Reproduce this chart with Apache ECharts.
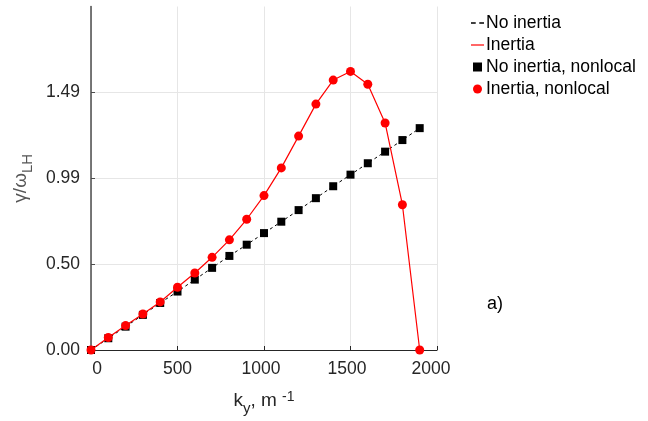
<!DOCTYPE html>
<html>
<head>
<meta charset="utf-8">
<script src="https://cdn.jsdelivr.net/npm/echarts@6/dist/echarts.min.js"></script>
<style>
  html, body { margin: 0; padding: 0; background: #fff; }
  #chart { width: 648px; height: 421px; }
</style>
</head>
<body>
<div id="chart"></div>
<script>
// Wavenumber k_y (m^-1)
const kValues = [0, 100, 200, 300, 400, 500, 600, 700, 800, 900,
                 1000, 1100, 1200, 1300, 1400, 1500, 1600, 1700, 1800, 1900];
// Normalised growth rate gamma/omega_LH with ion inertia
const inertia = [0, 0.072, 0.141, 0.208, 0.278, 0.363, 0.445, 0.536, 0.637, 0.756,
                 0.893, 1.053, 1.237, 1.422, 1.561, 1.611, 1.537, 1.313, 0.840, 0];
// Normalised growth rate without inertia
const noInertia = [0, 0.068, 0.135, 0.203, 0.272, 0.338, 0.407, 0.475, 0.544, 0.609,
                   0.676, 0.742, 0.809, 0.878, 0.947, 1.014, 1.080, 1.147, 1.214, 1.283];
// Axis ticks
const xTickStep = 500;
const xMax = 2000;
const yTickStep = 0.4966;
const yTickCount = 4;

const seriesNames = ['No inertia', 'Inertia', 'No inertia, nonlocal', 'Inertia, nonlocal'];

const pairs = (ys) => kValues.map((k, i) => [k, ys[i]]);

const chart = echarts.init(document.getElementById('chart'), null, { renderer: 'canvas' });
const font = 'Liberation Sans, Arial, Helvetica, sans-serif';

// legend glyphs: short dashed stroke, solid stroke, square
const dashIcon = 'path://M0,0h4v1.2h-4zM7,0h4v1.2h-4z';
const solidIcon = 'path://M0,0h13v1.2h-13z';
const squareIcon = 'path://M0,0h10v10h-10z';

// x tick labels are nudged slightly off their ticks (padding shifts the centred box)
const xLabelStyle = { fontSize: 17.5, color: '#262626', fontFamily: font };
const xLabelRich = {
  l0: Object.assign({ padding: [0, 0, 0, 12] }, xLabelStyle),
  l500: Object.assign({ padding: [0, 0, 0, 0] }, xLabelStyle),
  l1000: Object.assign({ padding: [0, 6, 0, 0] }, xLabelStyle),
  l1500: Object.assign({ padding: [0, 7, 0, 0] }, xLabelStyle),
  l2000: Object.assign({ padding: [0, 12, 0, 0] }, xLabelStyle)
};

chart.setOption({
  animation: false,
  backgroundColor: '#ffffff',
  textStyle: { fontFamily: font },
  grid: { left: 91, right: 211, top: 6.5, bottom: 67.7, containLabel: false },
  legend: {
    data: [
      { name: seriesNames[0], icon: dashIcon, itemStyle: { color: '#000' } },
      { name: seriesNames[1], icon: solidIcon, itemStyle: { color: '#ff0000' } },
      { name: seriesNames[2], icon: squareIcon },
      { name: seriesNames[3], icon: 'circle' }
    ],
    orient: 'vertical',
    left: 466,
    top: 9,
    itemWidth: 13,
    itemHeight: 9,
    itemGap: 4,
    symbolKeepAspect: true,
    textStyle: { fontSize: 17.5, color: '#000', fontFamily: font, padding: [0, 0, 0, -3] }
  },
  xAxis: {
    type: 'value',
    min: 0,
    max: xMax,
    interval: xTickStep,
    name: '{k|k}{sub|y}{k|, m }{sup|-1}',
    nameLocation: 'middle',
    nameGap: 36,
    nameTextStyle: {
      rich: {
        k: { fontSize: 19, color: '#262626', fontFamily: font, lineHeight: 30, verticalAlign: 'middle' },
        sub: { fontSize: 15, color: '#262626', fontFamily: font, lineHeight: 30, verticalAlign: 'bottom' },
        sup: { fontSize: 14, color: '#262626', fontFamily: font, lineHeight: 30, verticalAlign: 'top', padding: [4, 0, 0, 0] }
      }
    },
    axisLine: { lineStyle: { color: '#262626', width: 1.2 } },
    axisTick: { inside: true, length: 4, lineStyle: { color: '#262626' } },
    axisLabel: {
      fontSize: 17.5, color: '#262626', margin: 10, fontFamily: font,
      formatter: (v) => '{l' + v + '|' + v + '}',
      rich: xLabelRich
    },
    splitLine: { show: true, lineStyle: { color: '#e6e6e6', width: 1 } }
  },
  yAxis: {
    type: 'value',
    min: 0,
    max: yTickStep * yTickCount,
    interval: yTickStep,
    name: '{g|γ/ω}{s|LH}',
    nameLocation: 'middle',
    nameGap: 47,
    nameTextStyle: {
      rich: {
        g: { fontSize: 19, color: '#555555', fontFamily: font, lineHeight: 28, verticalAlign: 'middle' },
        s: { fontSize: 15, color: '#555555', fontFamily: font, lineHeight: 28, verticalAlign: 'bottom' }
      }
    },
    axisLine: { show: true, lineStyle: { color: '#4d4d4d', width: 1.5 } },
    axisTick: { show: true, inside: true, length: 4, lineStyle: { color: '#4d4d4d' } },
    axisLabel: {
      fontSize: 17.5, color: '#262626', margin: 11, fontFamily: font,
      showMaxLabel: false,
      formatter: (v) => v.toFixed(2)
    },
    splitLine: { show: true, showMaxLine: false, lineStyle: { color: '#e6e6e6', width: 1 } }
  },
  graphic: [{
    type: 'text',
    left: 487,
    top: 295,
    style: { text: 'a)', font: '18px ' + font, fill: '#000' }
  }],
  series: [
    {
      name: seriesNames[0],
      type: 'line',
      data: pairs(noInertia),
      symbol: 'none',
      lineStyle: { color: '#000', width: 1, type: [3, 3] },
      itemStyle: { color: '#000' },
      z: 2
    },
    {
      name: seriesNames[2],
      type: 'scatter',
      data: pairs(noInertia),
      symbol: 'rect',
      symbolSize: 8,
      itemStyle: { color: '#000', opacity: 1 },
      z: 3
    },
    {
      name: seriesNames[1],
      type: 'line',
      data: pairs(inertia),
      symbol: 'none',
      lineStyle: { color: '#ff0000', width: 1.2 },
      itemStyle: { color: '#ff0000' },
      z: 4
    },
    {
      name: seriesNames[3],
      type: 'scatter',
      data: pairs(inertia),
      symbol: 'circle',
      symbolSize: 9,
      itemStyle: { color: '#ff0000', opacity: 1 },
      z: 5
    }
  ]
});
</script>
</body>
</html>
